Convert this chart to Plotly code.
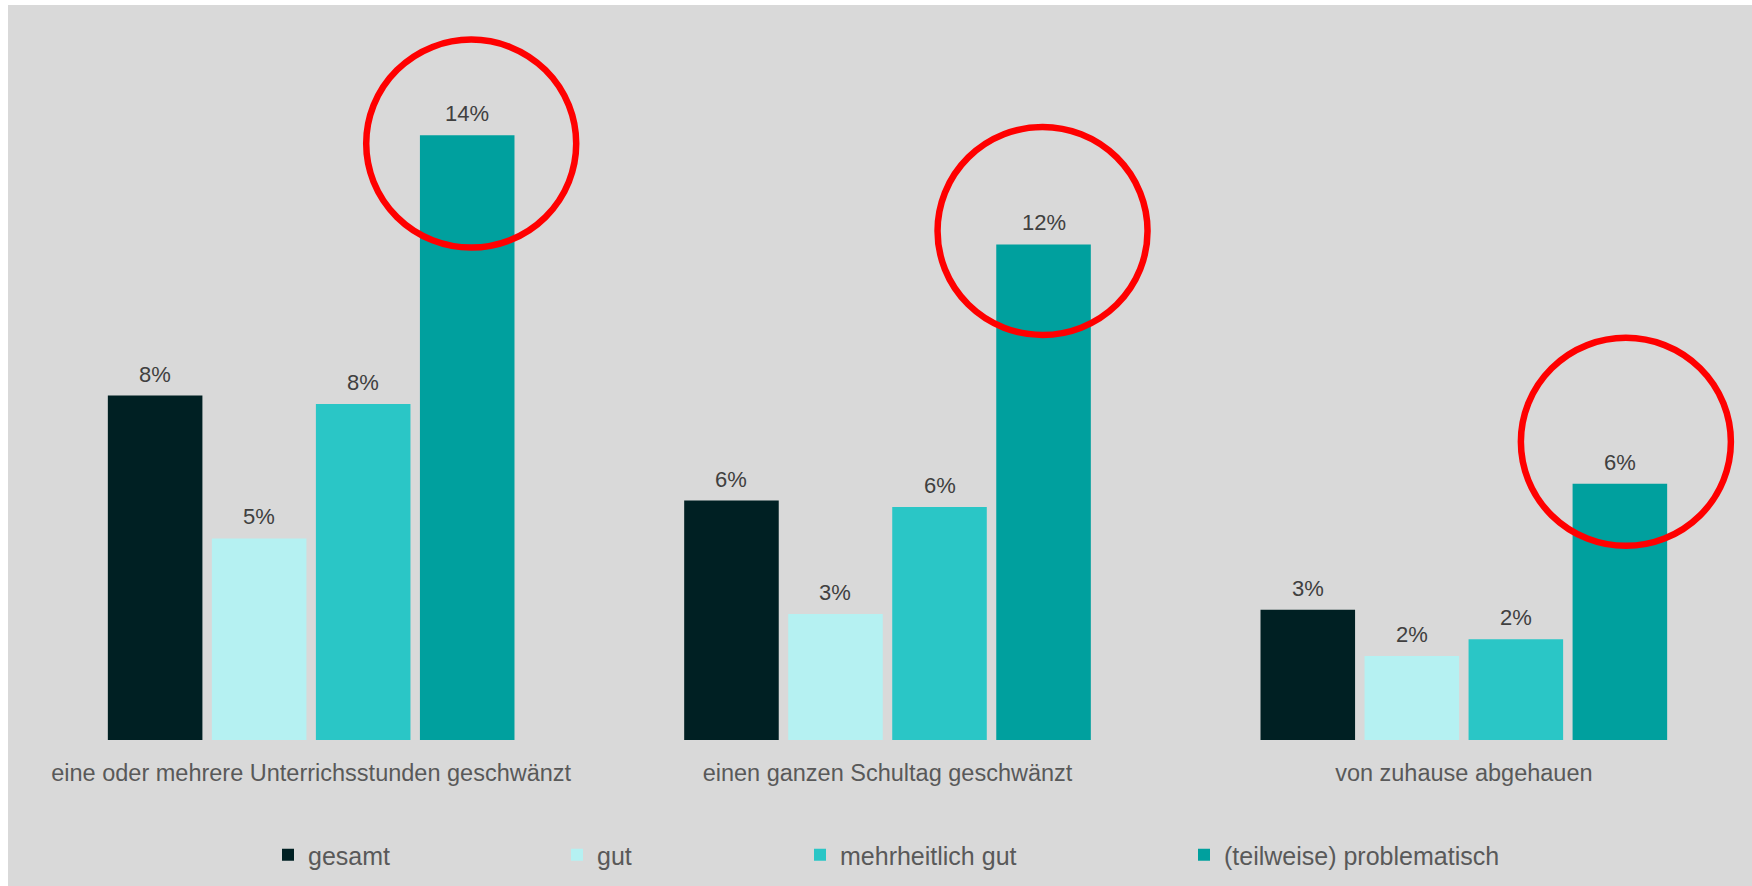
import plotly.graph_objects as go

# Survey results: share of pupils (%) per behaviour and family-climate group
categories = [
    "eine oder mehrere Unterrichsstunden geschwänzt",
    "einen ganzen Schultag geschwänzt",
    "von zuhause abgehauen",
]
series_names = ["gesamt", "gut", "mehrheitlich gut", "(teilweise) problematisch"]
gesamt = [8.2, 5.7, 3.1]
gut = [4.8, 3.0, 2.0]
mehrheitlich_gut = [8.0, 5.55, 2.4]
teilweise_problematisch = [14.4, 11.8, 6.1]

series_values = [gesamt, gut, mehrheitlich_gut, teilweise_problematisch]
colors = ["#002023", "#b5f1f2", "#2ac6c6", "#00a09e"]

# Red rings around the "(teilweise) problematisch" bars:
# (category index, ring centre in %, horizontal nudge in px)
highlight_rings = [(0, 14.2, 4), (1, 12.12, -1), (2, 7.1, 6)]

W, H = 1752, 886
ML, MR, MT, MB = 23, 0, 26, 146
PW, PH = W - ML - MR, H - MT - MB
PX_PER_PCT = 42.0
Y_MAX = PH / PX_PER_PCT

FONT = "Liberation Sans, Arial, sans-serif"

bargap = 0.278
bargroupgap = 0.091
n_series = len(series_names)
slot = (1 - bargap) / n_series          # width of one bar slot, in category units
slot_px = slot * PW / len(categories)   # same, in pixels

fig = go.Figure()
legend_ids = ["legend", "legend2", "legend3", "legend4"]
for name, vals, col, lid in zip(series_names, series_values, colors, legend_ids):
    fig.add_trace(go.Bar(
        x=categories,
        y=vals,
        name=name,
        marker=dict(color=col, line=dict(width=0)),
        legend=lid,
        hoverinfo="skip",
    ))

# Percentage labels above each bar
annotations = []
for j, vals in enumerate(series_values):
    for cat, v in zip(categories, vals):
        annotations.append(dict(
            x=cat, y=v, xref="x", yref="y",
            text=f"{v:.0f}%",
            showarrow=False,
            xanchor="center", yanchor="middle",
            xshift=(j - (n_series - 1) / 2) * slot_px,
            yshift=21.5,
            font=dict(family=FONT, size=22, color="#404040"),
        ))

# Legend entries spaced individually along the bottom
legend_left_px = [268, 557, 800, 1184]
layout_legends = {}
for lid, px in zip(legend_ids, legend_left_px):
    layout_legends[lid] = dict(
        orientation="h",
        x=(px - ML) / PW,
        xanchor="left",
        y=(MT + PH - 855) / PH,
        yanchor="middle",
        bgcolor="rgba(0,0,0,0)",
        borderwidth=0,
        font=dict(family=FONT, size=25, color="#595959"),
        itemwidth=30,
    )

# Grey card behind the chart
shapes = [dict(
    type="rect", xref="paper", yref="paper", layer="below",
    x0=(8 - ML) / PW, x1=1.01,
    y0=-0.3, y1=(MT + PH - 5) / PH,
    fillcolor="#d9d9d9", line=dict(width=0),
)]

fourth_offset = (n_series - 1) / 2 * slot
for cat_idx, yc, nudge in highlight_rings:
    shapes.append(dict(
        type="circle", xref="x", yref="y",
        xsizemode="pixel", ysizemode="pixel",
        xanchor=cat_idx + fourth_offset, yanchor=yc,
        x0=nudge - 105, x1=nudge + 105, y0=-104, y1=104,
        line=dict(color="#ff0000", width=6.5),
        fillcolor="rgba(0,0,0,0)",
        layer="above",
    ))

fig.update_layout(
    width=W, height=H,
    margin=dict(l=ML, r=MR, t=MT, b=MB),
    paper_bgcolor="white",
    plot_bgcolor="rgba(0,0,0,0)",
    barmode="group",
    bargap=bargap,
    bargroupgap=bargroupgap,
    font=dict(family=FONT),
    showlegend=True,
    shapes=shapes,
    annotations=annotations,
    xaxis=dict(
        type="category",
        showgrid=False, zeroline=False, showline=False,
        ticks="outside", ticklen=12, tickcolor="rgba(0,0,0,0)",
        tickfont=dict(family=FONT, size=23.5, color="#595959"),
    ),
    yaxis=dict(
        range=[0, Y_MAX],
        visible=False, showgrid=False, zeroline=False,
    ),
    **layout_legends,
)

fig.write_html("out.html")
